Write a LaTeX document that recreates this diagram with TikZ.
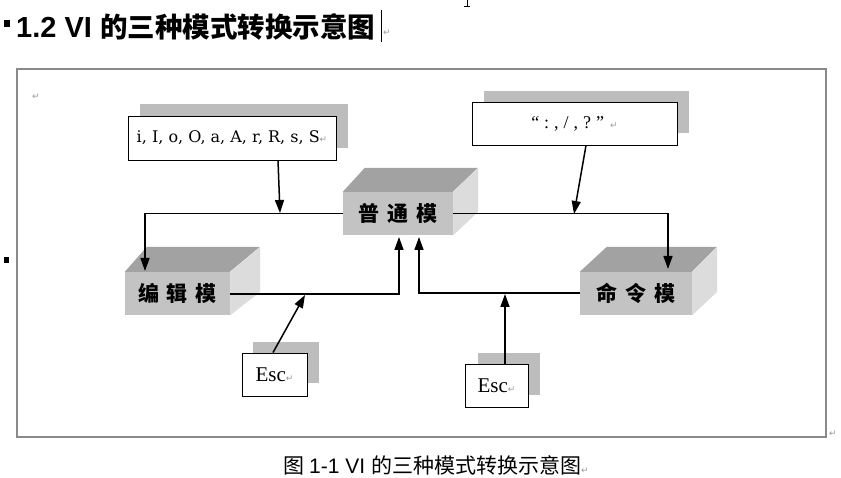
\documentclass[tikz,border=0pt]{standalone}
\usepackage{fontspec}
\setmainfont{Liberation Serif}
\newfontfamily\cjk{Noto Sans CJK SC}
\newfontfamily\lsans{Liberation Sans}
\newfontfamily\dvs{DejaVu Sans}
\newfontfamily\dvserif{DejaVu Serif}
\usetikzlibrary{arrows.meta}
\definecolor{frontc}{HTML}{C3C3C3}
\definecolor{topc}{HTML}{A2A2A2}
\definecolor{sidec}{HTML}{DCDCDC}
\definecolor{shadowc}{HTML}{BDBDBD}
\definecolor{framec}{HTML}{8A8A8A}
\definecolor{markc}{HTML}{9A9A9A}
\newcommand{\pmark}{{\dvs\fontsize{9}{9}\selectfont\color{markc}↵}}
\tikzset{
  front/.style={fill=frontc, draw=none, minimum width=#1, minimum height=43pt, inner sep=0pt,
     font=\cjk\bfseries\fontsize{21}{21}\selectfont},
  tbox/.style={fill=white, draw=black, line width=0.9pt, inner sep=0pt},
  shadowbox/.style={fill=shadowc, draw=none},
  conn/.style={line width=1.5pt, draw=black},
  arr/.style={conn, -{Triangle[length=13pt,width=9pt]}},
  pmk/.style={inner sep=0pt, font=\dvs\fontsize{9}{9}\selectfont, text=markc}
}
\begin{document}
\begin{tikzpicture}[x=1pt,y=-1pt]
\useasboundingbox (0,0) rectangle (841,478);
\fill[white] (0,0) rectangle (841,478);

% title
\fill[black] (4,20) rectangle (10,27);
\node[anchor=west, inner sep=0pt] (title) at (16,27)
  {{\lsans\bfseries\fontsize{29}{29}\selectfont 1.2 VI }{\cjk\bfseries\fontsize{27.5}{27.5}\selectfont 的三种模式转换示意图}};
\draw[line width=1pt] (381,10) -- (381,42);
\node[pmk] (tm) at (387,33) {↵};
\draw[line width=0.6pt] (467,0) -- (467,6) (464,6) -- (470,6);
\fill[black] (4,257) rectangle (9,263);

% outer frame
\draw[framec, line width=1.5pt] (17,69) rectangle (826,437);
\node[pmk] (m1) at (36,97) {↵};
\node[pmk] (m2) at (833,434) {↵};

% shadows
\fill[shadowc] (140,104) rectangle (348,148);
\fill[shadowc] (484,91) rectangle (689,133);
\fill[shadowc] (253,342) rectangle (319,383);
\fill[shadowc] (478,353) rectangle (540,395);

% text boxes
\node[tbox, minimum width=208pt, minimum height=44pt] (b1) at (232,138)
  {\dvserif\fontsize{16}{16}\selectfont i, I, o, O, a, A, r, R, s, S\pmark};
\node[tbox, minimum width=205pt, minimum height=43pt] (b2) at (574.5,123.5)
  {\fontsize{18}{18}\selectfont “\kern5pt:\kern5pt,\kern5pt/\kern5pt,\kern5pt?\kern5pt”\kern6pt\pmark};
\node[tbox, minimum width=65pt, minimum height=43pt] (e1) at (274.5,374.5)
  {\fontsize{21}{21}\selectfont Esc\pmark};
\node[tbox, minimum width=63pt, minimum height=43pt] (e2) at (496.5,385.5)
  {\fontsize{21}{21}\selectfont Esc\pmark};

% 3D boxes
\node[front=110pt] (nor) at (398,213.5) {普\hspace{8pt}通\hspace{8pt}模};
\fill[topc] (nor.north west) -- ++(22,-24) -- ++(113,0) -- ++(-25,24) -- cycle;
\fill[sidec] (nor.north east) -- ++(25,-24) -- ++(0,44) -- (nor.south east) -- cycle;

\node[front=105pt] (edit) at (177.5,293.5) {编\hspace{8pt}辑\hspace{8pt}模};
\fill[topc] (edit.north west) -- ++(22,-25) -- ++(113,0) -- ++(-30,25) -- cycle;
\fill[sidec] (edit.north east) -- ++(30,-25) -- ++(0,45) -- (edit.south east) -- cycle;

\node[front=112pt] (cmd) at (636,293.5) {命\hspace{8pt}令\hspace{8pt}模};
\fill[topc] (cmd.north west) -- ++(27,-25) -- ++(110,0) -- ++(-25,25) -- cycle;
\fill[sidec] (cmd.north east) -- ++(25,-25) -- ++(0,45) -- (cmd.south east) -- cycle;

% connectors
\coordinate (jl) at (280,213);
\coordinate (jr) at (574,214);
\draw[conn] (nor.west) -- (145,213.5) coordinate (cl);
\draw[arr] (cl) -- (145,271);
\draw[conn] (nor.east) -- (668,213.5) coordinate (cr);
\draw[arr] (cr) -- (668,269);
\draw[arr] (b1.south -| 278,0) -- (jl);
\draw[arr] (b2.south -| 586,0) -- (jr);

\draw[arr] (edit.east |- 0,294) -- (399,294) -- (399,237);
\draw[arr] (cmd.west |- 0,293) -- (419,293) -- (419,237);
\draw[arr] (e1.north -| 273,0) -- (305,295);
\draw[arr] (e2.north -| 505,0) -- (505,294);

% caption
\node[inner sep=0pt] (cap) at (436,465)
  {{\cjk\fontsize{21}{21}\selectfont 图 }{\lsans\fontsize{21}{21}\selectfont 1-1 VI }{\cjk\fontsize{21}{21}\selectfont 的三种模式转换示意图}\pmark};
\end{tikzpicture}
\end{document}
